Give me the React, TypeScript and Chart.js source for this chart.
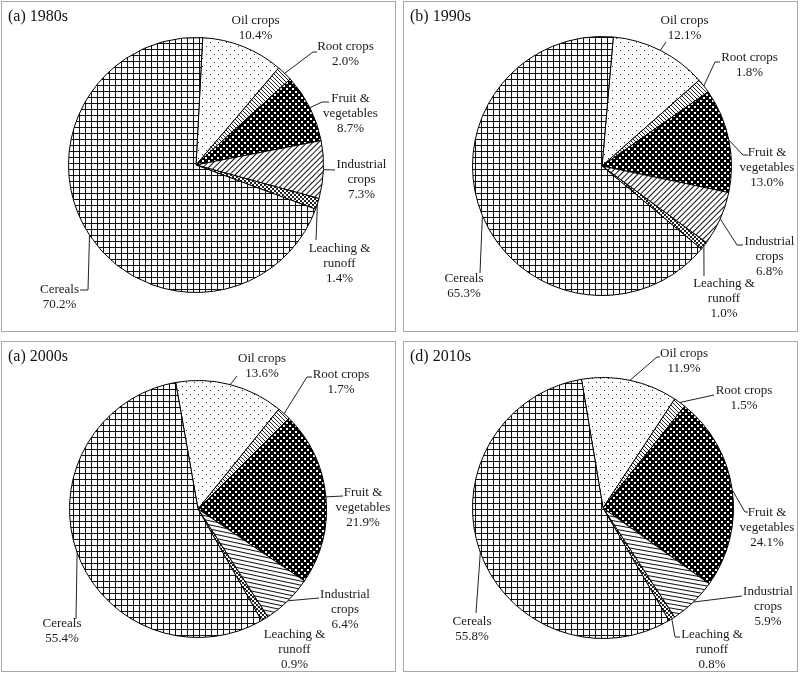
import React, { useEffect, useRef } from 'react';
import { Chart, PieController, ArcElement } from 'chart.js';

Chart.register(PieController, ArcElement);

// ---------------- data ----------------
const categories = ['Oil crops', 'Root crops', 'Fruit & vegetables', 'Industrial crops', 'Leaching & runoff', 'Cereals'];
const labelLines = [['Oil crops'], ['Root crops'], ['Fruit &', 'vegetables'], ['Industrial', 'crops'], ['Leaching &', 'runoff'], ['Cereals']];
const panelTitles = ['(a) 1980s', '(b) 1990s', '(a) 2000s', '(d) 2010s'];
const values1980s = [10.4, 2.0, 8.7, 7.3, 1.4, 70.2];
const values1990s = [12.1, 1.8, 13.0, 6.8, 1.0, 65.3];
const values2000s = [13.6, 1.7, 21.9, 6.4, 0.9, 55.4];
const values2010s = [11.9, 1.5, 24.1, 5.9, 0.8, 55.8];
const panelValues = [values1980s, values1990s, values2000s, values2010s];

// ---------------- layout (positions / styles only) ----------------
const PANEL_W = 395;
const PANEL_H = 331;
type LabelPos = { cx: number; y: number; leader: number[][] };
type PanelLayout = { left: number; top: number; cx: number; cy: number; r: number; rotation: number; hatch: number; labels: LabelPos[] };

const panelLayouts: PanelLayout[] = [
  {
    left: 1, top: 1, cx: 195, cy: 164, r: 128, rotation: 3, hatch: -45,
    labels: [
      { cx: 254.5, y: 20, leader: [] },
      { cx: 344.5, y: 46, leader: [[312, 51], [316, 51]] },
      { cx: 349.5, y: 98, leader: [[321, 101], [328, 101]] },
      { cx: 360.5, y: 164, leader: [[334, 169]] },
      { cx: 338.5, y: 248, leader: [[315, 239]] },
      { cx: 58.5, y: 289, leader: [[87, 289], [79, 289]] },
    ],
  },
  {
    left: 403, top: 1, cx: 199, cy: 165, r: 130, rotation: 5, hatch: -45,
    labels: [
      { cx: 281.5, y: 20, leader: [[263, 41]] },
      { cx: 346.5, y: 57, leader: [[312, 61], [317, 61]] },
      { cx: 364, y: 152, leader: [[340, 154], [345, 154]] },
      { cx: 366.5, y: 241, leader: [[334, 244], [340, 244]] },
      { cx: 321, y: 283, leader: [[301, 275]] },
      { cx: 61, y: 278, leader: [[77, 272]] },
    ],
  },
  {
    left: 1, top: 341, cx: 197, cy: 168, r: 129, rotation: -10, hatch: 12,
    labels: [
      { cx: 261, y: 18, leader: [[236, 35]] },
      { cx: 340, y: 34, leader: [[306, 36], [311, 36]] },
      { cx: 362, y: 152, leader: [[342, 155]] },
      { cx: 344, y: 254, leader: [[318, 257]] },
      { cx: 293.5, y: 294, leader: [] },
      { cx: 61, y: 283, leader: [[75, 278]] },
    ],
  },
  {
    left: 403, top: 341, cx: 200, cy: 167, r: 131, rotation: -9.5, hatch: 10,
    labels: [
      { cx: 281, y: 13, leader: [[254, 16], [257, 16]] },
      { cx: 341, y: 50, leader: [[311, 54]] },
      { cx: 364, y: 172, leader: [[342, 171], [345, 171]] },
      { cx: 365, y: 251, leader: [[339, 255]] },
      { cx: 309, y: 294, leader: [[272, 296], [277, 296]] },
      { cx: 69, y: 281, leader: [[73, 272]] },
    ],
  },
];

const FONT = '"Liberation Serif", "Times New Roman", serif';
const LINE_H = 15;

function makeTile(w: number, h: number, draw: (g: CanvasRenderingContext2D) => void) {
  const c = document.createElement('canvas');
  c.width = w;
  c.height = h;
  const g = c.getContext('2d')!;
  g.fillStyle = '#fff';
  g.fillRect(0, 0, w, h);
  draw(g);
  return c;
}

function buildPatterns(ctx: CanvasRenderingContext2D, hatch: number) {
  const dots = makeTile(8, 8, (g) => {
    g.fillStyle = '#333';
    g.fillRect(1, 1, 1, 1);
    g.fillRect(5, 5, 1, 1);
  });
  const root = makeTile(4, 4, (g) => {
    g.fillStyle = '#222';
    for (let i = 0; i < 4; i++) g.fillRect(i, i, 1, 1);
  });
  const checker = makeTile(6, 6, (g) => {
    g.fillStyle = '#000';
    g.fillRect(0, 0, 6, 6);
    g.fillStyle = '#fff';
    g.fillRect(0, 0, 2, 2);
    g.fillRect(3, 3, 2, 2);
  });
  const lines = makeTile(4, 4, (g) => {
    g.fillStyle = '#111';
    g.fillRect(0, 0, 4, 1);
  });
  const weave = makeTile(4, 4, (g) => {
    g.fillStyle = '#222';
    for (let i = 0; i < 4; i++) {
      g.fillRect(i, i, 1, 1);
      g.fillRect(3 - i, i, 1, 1);
    }
  });
  const grid = makeTile(6, 6, (g) => {
    g.fillStyle = '#111';
    g.fillRect(0, 0, 6, 1);
    g.fillRect(0, 0, 1, 6);
  });
  const pDots = ctx.createPattern(dots, 'repeat')!;
  const pRoot = ctx.createPattern(root, 'repeat')!;
  const pChecker = ctx.createPattern(checker, 'repeat')!;
  const pLines = ctx.createPattern(lines, 'repeat')!;
  pLines.setTransform(new DOMMatrix().rotateSelf(hatch));
  const pWeave = ctx.createPattern(weave, 'repeat')!;
  const pGrid = ctx.createPattern(grid, 'repeat')!;
  return [pDots, pRoot, pChecker, pLines, pWeave, pGrid];
}

function PiePanel({ index }: { index: number }) {
  const ref = useRef<HTMLCanvasElement | null>(null);
  const lay = panelLayouts[index];
  useEffect(() => {
    const canvas = ref.current!;
    const ctx = canvas.getContext('2d')!;
    const values = panelValues[index];
    const patterns = buildPatterns(ctx, lay.hatch);
    const padding = {
      left: lay.cx - lay.r,
      right: PANEL_W - lay.cx - lay.r,
      top: lay.cy - lay.r,
      bottom: PANEL_H - lay.cy - lay.r,
    };
    const overlay = {
      id: 'overlay' + index,
      beforeDraw(chart: any) {
        const c = chart.ctx;
        c.save();
        c.fillStyle = '#fff';
        c.fillRect(0, 0, PANEL_W, PANEL_H);
        c.restore();
      },
      afterDraw(chart: any) {
        const c: CanvasRenderingContext2D = chart.ctx;
        c.save();
        // panel frame
        c.strokeStyle = '#a8a8a8';
        c.lineWidth = 1;
        c.strokeRect(0.5, 0.5, PANEL_W - 1, PANEL_H - 1);
        // title
        c.fillStyle = '#111';
        c.font = '16px ' + FONT;
        c.textAlign = 'left';
        c.textBaseline = 'middle';
        c.fillText(panelTitles[index], 7, 16);
        // labels and leader lines
        const meta = chart.getDatasetMeta(0);
        c.font = '13px ' + FONT;
        c.textAlign = 'center';
        meta.data.forEach((arc: any, i: number) => {
          const p = arc.getProps(['x', 'y', 'startAngle', 'endAngle', 'outerRadius'], true);
          const mid = (p.startAngle + p.endAngle) / 2;
          const ax = p.x + Math.cos(mid) * p.outerRadius;
          const ay = p.y + Math.sin(mid) * p.outerRadius;
          const lp = lay.labels[i];
          if (lp.leader.length) {
            c.beginPath();
            c.strokeStyle = '#222';
            c.lineWidth = 1;
            c.moveTo(ax, ay);
            lp.leader.forEach((pt) => c.lineTo(pt[0], pt[1]));
            c.stroke();
          }
          const lines = [...labelLines[i], values[i].toFixed(1) + '%'];
          c.fillStyle = '#1a1a1a';
          lines.forEach((t, k) => c.fillText(t, lp.cx, lp.y + k * LINE_H));
        });
        c.restore();
      },
    };
    const chart = new Chart(canvas, {
      type: 'pie',
      data: {
        labels: categories,
        datasets: [
          {
            data: values,
            backgroundColor: patterns as any,
            borderColor: '#000',
            borderWidth: 1,
          },
        ],
      },
      options: {
        responsive: false,
        animation: false,
        events: [],
        devicePixelRatio: 1,
        rotation: lay.rotation,
        layout: { padding },
        plugins: { legend: { display: false }, tooltip: { enabled: false } },
      } as any,
      plugins: [overlay],
    });
    return () => chart.destroy();
  }, [index]);
  return (
    <canvas
      ref={ref}
      width={PANEL_W}
      height={PANEL_H}
      style={{ position: 'absolute', left: lay.left, top: lay.top, width: PANEL_W, height: PANEL_H }}
    />
  );
}

export default function App() {
  return (
    <div style={{ position: 'absolute', left: 0, top: 0, width: 800, height: 674, background: '#fff' }}>
      {panelTitles.map((_, i) => (
        <PiePanel key={i} index={i} />
      ))}
    </div>
  );
}
